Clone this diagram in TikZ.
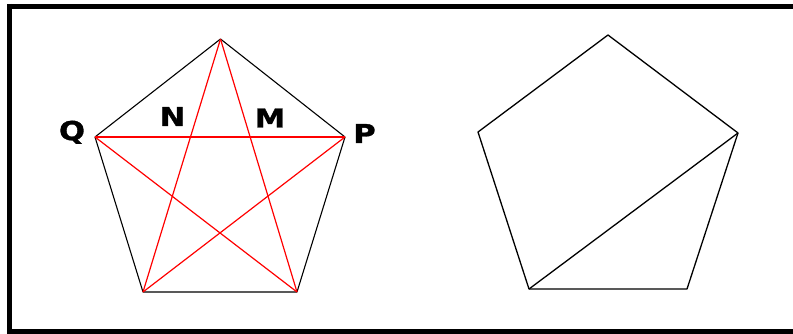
\documentclass[tikz,border=0pt]{standalone}
\usepackage{fontspec}
\newfontfamily\labfont{DejaVu Sans Bold}[FakeStretch=1.18,FakeBold=1.2]
\begin{document}
\begin{tikzpicture}[x=1pt,y=-1pt,
  edge/.style={black,line width=1.1pt,line join=round},
  diag/.style={red,line width=1.2pt},
  lab/.style={inner sep=0pt,anchor=base,font=\labfont\fontsize{26}{26}\selectfont}]
\useasboundingbox (0,0) rectangle (793,334);
\draw[line width=5pt] (9.5,6.5) -- (810,6.5) (9.5,331.5) -- (810,331.5) (9.5,4) -- (9.5,334);
% left pentagon
\coordinate (T) at (220.5,39);
\coordinate (Q) at (95,137);
\coordinate (P) at (345,137);
\coordinate (BL) at (143,292);
\coordinate (BR) at (297,292);
\draw[edge] (T) -- (P) -- (BR) -- (BL) -- (Q) -- cycle;
\draw[diag] (Q) -- (P);
\draw[diag] (Q) -- (BR);
\draw[diag] (P) -- (BL);
\draw[diag] (T) -- (BL);
\draw[diag] (T) -- (BR);
\node[lab] (lQ) at (72,140) {Q};
\node[lab] (lN) at (172.5,126) {N};
\node[lab] (lM) at (270,127.5) {M};
\node[lab] (lP) at (364.5,143) {P};
% right pentagon
\coordinate (T2) at (608,35);
\coordinate (L2) at (478,132);
\coordinate (R2) at (738,133);
\coordinate (BL2) at (529,289);
\coordinate (BR2) at (687,289);
\draw[edge,line width=1.3pt] (T2) -- (R2) -- (BR2) -- (BL2) -- (L2) -- cycle;
\draw[edge,line width=1.3pt] (BL2) -- (R2);
\end{tikzpicture}
\end{document}
